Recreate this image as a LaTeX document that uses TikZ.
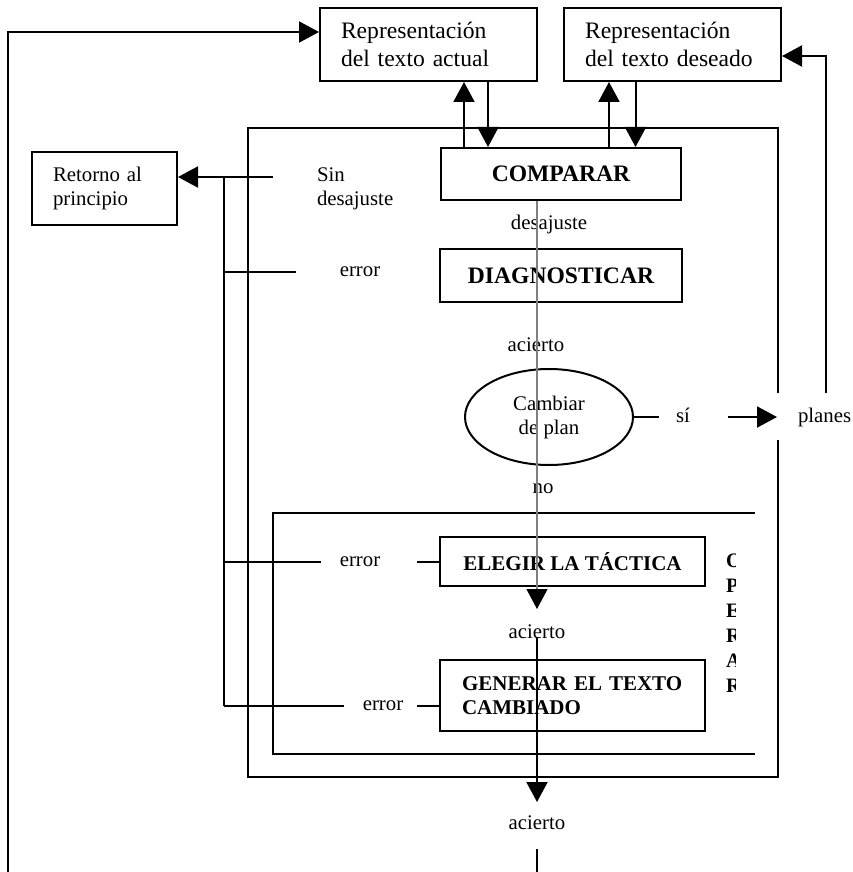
\documentclass[tikz,border=0pt]{standalone}
\usepackage{fontspec}
\setmainfont{Liberation Serif}
\usetikzlibrary{arrows.meta,shapes.geometric,positioning}

\begin{document}
\begin{tikzpicture}[x=1pt,y=-1pt,line width=2pt,>={Triangle[length=20pt,width=21pt]},
    font=\fontsize{20.8pt}{24pt}\selectfont,
    repbox/.style={draw,align=left,text width=175pt,inner xsep=21pt,inner ysep=0pt,
        minimum height=73pt,font=\fontsize{23.6pt}{28pt}\selectfont},
    taskbox/.style={draw,inner sep=0pt,font=\bfseries\fontsize{23.6pt}{27pt}\selectfont},
    opbox/.style={draw,inner sep=0pt,minimum width=265pt,font=\bfseries\fontsize{21pt}{24pt}\selectfont},
    lbl/.style={inner sep=0pt},
    gray line/.style={draw=gray,line width=1.2pt}]

\useasboundingbox (0,0) rectangle (853,872);

% representaciones
\node[repbox] (actual) at (428.5,44.5) {Representación\\del texto actual};
\node[repbox,right=25pt of actual] (deseado) {Representación\\del texto deseado};
\node[repbox,text width=103pt,font=\fontsize{20.8pt}{24pt}\selectfont] (retorno) at (104.5,188.5) {Retorno al\\principio};

% marcos
\draw (778,393) -- (778,128) -- (248,128) -- (248,777) -- (778,777) -- (778,440);
\draw (755,513) -- (273,513) -- (273,754) -- (755,754);

% tareas
\node[taskbox,minimum width=240pt,minimum height=52pt] (comparar) at (561,174) {COMPARAR};
\node[taskbox,minimum width=242pt,minimum height=53pt] (diag) at (561,275.5) {DIAGNOSTICAR};
\node[draw,ellipse,minimum width=168pt,minimum height=96pt,inner sep=0pt,align=center] (cambiar) at (549,417) {Cambiar\\de plan};
\node[opbox,minimum height=49pt] (elegir) at (572.5,561.5) {ELEGIR LA TÁCTICA};
\node[opbox,minimum height=71pt,align=left,text width=221pt,inner xsep=22pt,below=72pt of elegir] (generar) {GENERAR EL TEXTO\\CAMBIADO};

% etiquetas
\node[lbl,anchor=west,align=left] (sin) at (316,189) {Sin\\desajuste};
\node[lbl,anchor=base] (desaj) at (549,229) {desajuste};
\node[lbl] (err1) at (360,272) {error};
\node[lbl,anchor=base] (ac1) at (536,351) {acierto};
\node[lbl,anchor=base] (si) at (683,422) {sí};
\node[lbl,anchor=west,inner xsep=20pt] (planes) at (777,417) {planes};
\node[lbl,anchor=base] (no) at (543,493) {no};
\node[lbl] (err2) at (360,562) {error};
\node[lbl,anchor=base] (ac2) at (537,638) {acierto};
\node[lbl] (err3) at (383,706) {error};
\node[lbl,anchor=base] (ac3) at (537,829) {acierto};

\begin{scope}
  \clip (715,540) rectangle (735,700);
  \node[lbl,anchor=north west,align=left,font=\bfseries\fontsize{20.5pt}{25pt}\selectfont] (operar) at (725,553) {O\\P\\E\\R\\A\\R};
\end{scope}

\coordinate (loopBot) at (8,872);
\coordinate (planTop) at (826,393);
\coordinate (sinEnd) at (273,177);
\coordinate (busTop) at (224,177);
\coordinate (gTip) at (537,609);
\coordinate (outTip) at (537,802);
\coordinate (botEnd) at (537,872);

% lazos exteriores
\draw[->] (loopBot) |- ([yshift=12.5pt]actual.west);
\draw[->] (planTop) |- ([yshift=-11.5pt]deseado.east);
\draw[->] (sinEnd) -- (sinEnd -| retorno.east);

% comparar con las representaciones
\draw[->] ([xshift=24pt]comparar.north west) coordinate (c1) -- (c1 |- actual.south);
\draw[->] ([xshift=59.5pt]actual.south) coordinate (c2) -- (c2 |- comparar.north);
\draw[->] ([xshift=169pt]comparar.north west) coordinate (c3) -- (c3 |- deseado.south);
\draw[->] ([xshift=-37pt]deseado.south) coordinate (c4) -- (c4 |- comparar.north);

% errores
\draw (busTop) -- (busTop |- err3);
\draw (busTop |- err1) -- ([xshift=-43pt]err1.west);
\draw (busTop |- err2) -- ([xshift=-18pt]err2.west);
\draw (busTop |- err3) -- ([xshift=-18pt]err3.west);
\draw ([xshift=36pt]err2.east) -- (err2 -| elegir.west);
\draw ([xshift=13pt]err3.east) -- (err3 -| generar.west);

% cambiar de plan
\draw (cambiar.east) -- ++(25pt,0pt);
\draw[->] ([xshift=-49pt]planes.west) -- (planes.west);

% flujo central
\draw[gray line,-{Triangle[length=20pt,width=21pt,color=black]}] ([xshift=-24pt]comparar.south) -- (gTip);
\draw[->] (ac2.base) -- (outTip);
\draw ([yshift=-20pt]ac3.base) -- (botEnd);

\end{tikzpicture}
\end{document}
